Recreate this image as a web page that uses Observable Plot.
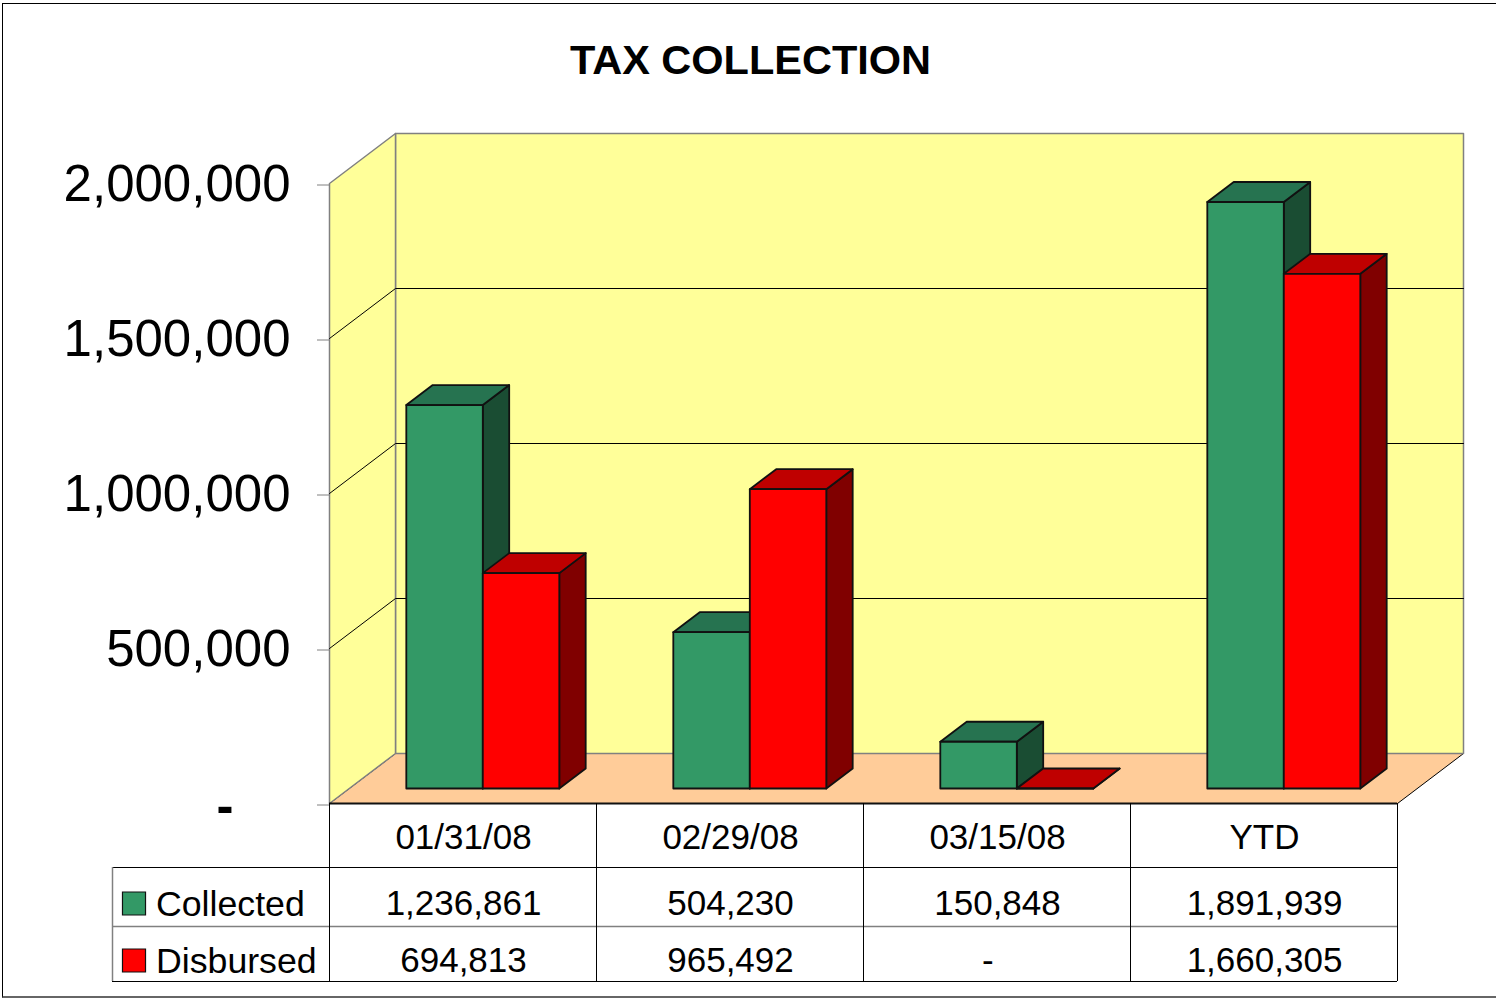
<!DOCTYPE html>
<html>
<head>
<meta charset="utf-8">
<script src="https://cdn.jsdelivr.net/npm/d3@7"></script>
<script src="https://cdn.jsdelivr.net/npm/@observablehq/plot@0.6"></script>
<style>
html,body{margin:0;padding:0;background:#fff}
#chart{position:relative;width:1496px;height:998px;overflow:hidden}
#chart svg{display:block;position:absolute;left:0;top:0}
#border{position:absolute;left:2px;top:3px;right:0;bottom:0;border-top:1px solid #000;border-left:1px solid #000;border-bottom:2px solid #666;box-sizing:border-box;pointer-events:none}
</style>
</head>
<body>
<div id="chart"><div id="border"></div></div>
<script>
const title = "TAX COLLECTION";
const categories = ["01/31/08", "02/29/08", "03/15/08", "YTD"];
const collected = [1236861, 504230, 150848, 1891939];
const disbursed = [694813, 965492, 0, 1660305];
const yTicks = [0, 500000, 1000000, 1500000, 2000000];
const gridValues = [500000, 1000000, 1500000];

const colors = {
  Collected: {front: "#339966", top: "#267350", side: "#1a4d33"},
  Disbursed: {front: "#ff0000", top: "#bf0000", side: "#800000"}
};
const seriesList = [["Collected", collected], ["Disbursed", disbursed]];

const W = 1496, H = 998, mL = 329, mR = 33, mT = 133, mB = 195;
const catPx = (W - mL - mR - 66) / 4;            // pixels per category
const depthX = 66 / catPx;                        // wall depth, category units
const depthY = 50 / 620 * 2000000;                // wall depth, value units
const valPerPx = 2000000 / 620;
const below = px => -px * valPerPx;               // pixels below the axis, in value units
const across = px => (px - mL) / catPx;           // page px to category units

const gap = 0.2135, barW = 0.2865;
const zFront = 0.3, zBack = 0.7;
const P = (c, v, z) => ({x: c + z * depthX, y: v + z * depthY});

// polygons
const walls = [], floor = [], bars = [];
const poly = (out, id, color, pts) => pts.concat([pts[0]]).forEach(p => out.push({...p, id, color}));

poly(floor, "floor", "#ffcc99", [P(0,0,0), P(4,0,0), P(4,0,1), P(0,0,1)]);
poly(walls, "back", "#ffff99", [P(0,0,1), P(4,0,1), P(4,2000000,1), P(0,2000000,1)]);
poly(walls, "left", "#ffff99", [P(0,0,0), P(0,0,1), P(0,2000000,1), P(0,2000000,0)]);

categories.forEach((cat, i) => {
  seriesList.forEach(([name, values], s) => {
    const x0 = i + gap + s * barW, x1 = x0 + barW, v = values[i], id = name + i, c = colors[name];
    poly(bars, id + "side", c.side, [P(x1,0,zFront), P(x1,0,zBack), P(x1,v,zBack), P(x1,v,zFront)]);
    poly(bars, id + "top", c.top, [P(x0,v,zFront), P(x1,v,zFront), P(x1,v,zBack), P(x0,v,zBack)]);
    poly(bars, id + "front", c.front, [P(x0,0,zFront), P(x1,0,zFront), P(x1,v,zFront), P(x0,v,zFront)]);
  });
});

const grid = gridValues.flatMap(v => [P(0,v,0), P(0,v,1), P(4,v,1)].map(p => ({...p, id: v})));

// table
const rowEdges = [0, below(64), below(123), below(178)];
const rowMid = [below(34), below(100), below(157)];
const fmt = v => v === 0 ? "-\u00a0\u00a0" : d3.format(",")(v);
const cells = [
  ...categories.map((t, i) => ({x: i + 0.5, y: rowMid[0], t})),
  ...collected.map((v, i) => ({x: i + 0.5, y: rowMid[1], t: fmt(v)})),
  ...disbursed.map((v, i) => ({x: i + 0.5, y: rowMid[2], t: fmt(v)}))
];
const tableLeft = across(112);
const keys = [
  {name: "Collected", y: rowMid[1]},
  {name: "Disbursed", y: rowMid[2]}
];

const polyLine = (data, o = {}) => Plot.line(data, {x: "x", y: "y", z: "id", fill: "color", curve: "linear", ...o});

const plot = Plot.plot({
  width: W, height: H,
  marginLeft: mL, marginRight: mR, marginTop: mT, marginBottom: mB,
  x: {domain: [0, 4 + depthX], axis: null},
  y: {domain: [0, 2000000 + depthY], axis: null},
  color: {type: "identity"},
  style: {fontFamily: "'Liberation Sans', Arial, sans-serif", background: "transparent", color: "#000"},
  marks: [
    polyLine(floor, {stroke: "#000", strokeWidth: 1}),
    polyLine(walls, {stroke: "#808080", strokeWidth: 1.5}),
    Plot.line(grid, {x: "x", y: "y", z: "id", stroke: "#000", strokeWidth: 1}),
    polyLine(bars, {stroke: "#111", strokeWidth: 1.8, strokeLinejoin: "round"}),
    Plot.axisY({
      ticks: yTicks, tickSize: 12, tickPadding: 27, stroke: "#808080", fill: "#000",
      fontSize: 51, label: null, dy: 1.5,
      tickFormat: v => v === 0 ? "" : d3.format(",")(v)
    }),
    Plot.text([0], {x: across(233), y: d => d, text: () => "-", textAnchor: "end", dy: 3, fontSize: 51, fontWeight: "bold", fill: "#000"}),
    // title
    Plot.text([title], {x: across(750), y: below(-743), fontSize: 41.5, fontWeight: "bold", fill: "#000"}),
    // data table lines
    Plot.ruleY([rowEdges[0]], {x1: 0, x2: 4, stroke: "#111", strokeWidth: 2}),
    Plot.ruleY([rowEdges[1]], {x1: tableLeft, x2: 4, stroke: "#000", strokeWidth: 1}),
    Plot.ruleY([rowEdges[2]], {x1: tableLeft, x2: 4, stroke: "#808080", strokeWidth: 1.5}),
    Plot.ruleY([rowEdges[3]], {x1: tableLeft, x2: 4, stroke: "#000", strokeWidth: 1}),
    Plot.ruleX([0, 1, 2, 3, 4], {y1: rowEdges[0], y2: rowEdges[3], stroke: "#000", strokeWidth: 1}),
    Plot.ruleX([tableLeft], {y1: rowEdges[1], y2: rowEdges[3], stroke: "#808080", strokeWidth: 1.5}),
    Plot.text(cells, {x: "x", y: "y", text: "t", dx: 0.5, fontSize: 35, fill: "#000"}),
    // key
    Plot.dot(keys, {x: across(133.5), y: "y", symbol: "square", r: 13, fill: d => colors[d.name].front, stroke: "#111", strokeWidth: 1.2}),
    Plot.text(keys, {x: across(155.5), y: "y", text: "name", textAnchor: "start", dy: 1, fontSize: 35.7, fill: "#000"})
  ]
});
document.getElementById("chart").prepend(plot);
</script>
</body>
</html>
